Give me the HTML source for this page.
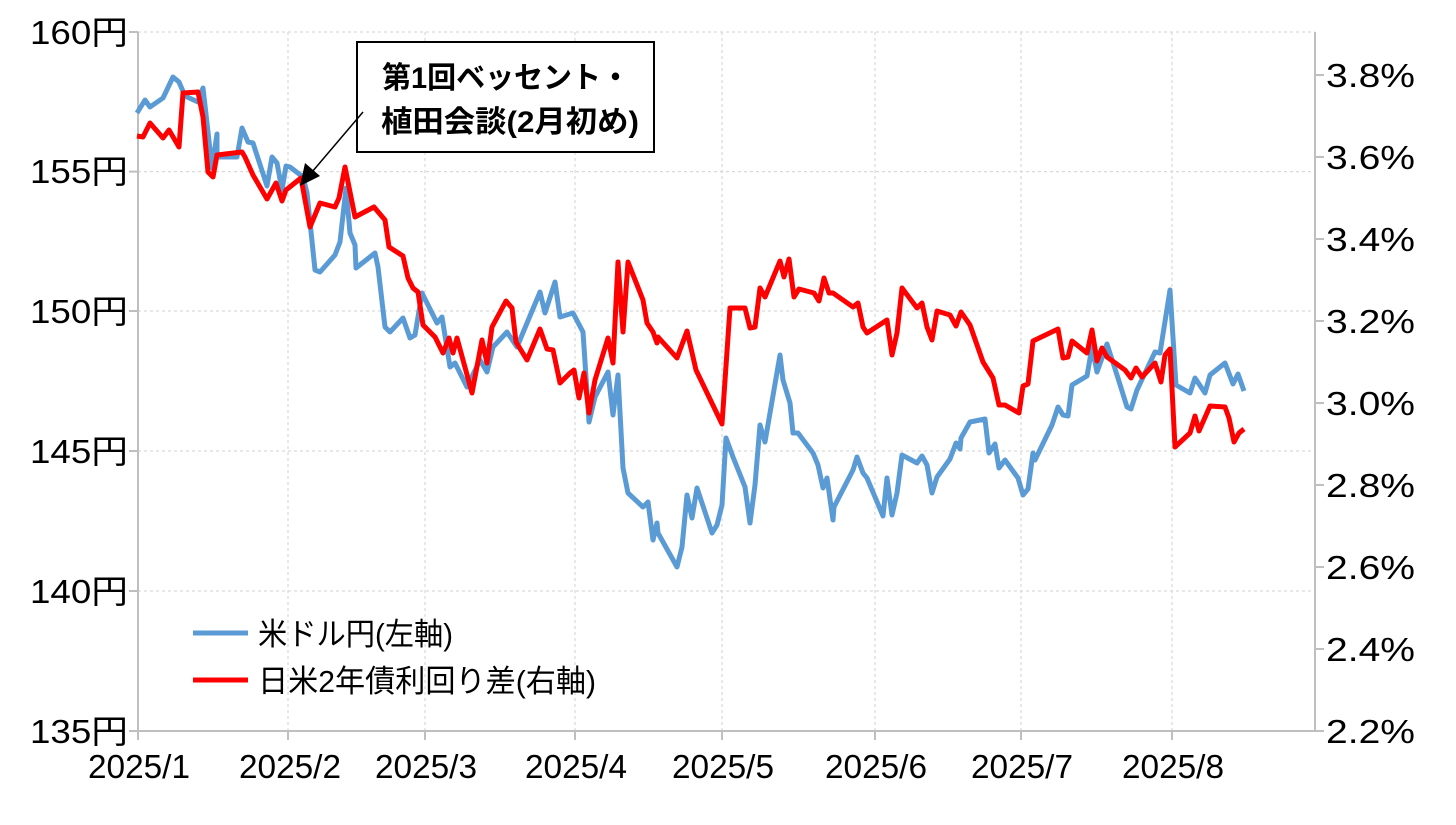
<!DOCTYPE html>
<html><head><meta charset="utf-8"><style>
html,body{margin:0;padding:0;background:#fff;}
svg{display:block;}
text{font-family:"Liberation Sans","Noto Sans CJK JP",sans-serif;fill:#000;}
</style></head><body>
<svg width="1456" height="825" viewBox="0 0 1456 825" xmlns="http://www.w3.org/2000/svg">
<g stroke="#d9d9d9" stroke-width="1.2" stroke-dasharray="3,3">
<line x1="138" y1="32" x2="1315" y2="32"/>
<line x1="138" y1="171.6" x2="1315" y2="171.6"/>
<line x1="138" y1="311" x2="1315" y2="311"/>
<line x1="138" y1="451" x2="1315" y2="451"/>
<line x1="138" y1="591" x2="1315" y2="591"/>
<line x1="288" y1="32" x2="288" y2="731"/>
<line x1="425" y1="32" x2="425" y2="731"/>
<line x1="575" y1="32" x2="575" y2="731"/>
<line x1="722" y1="32" x2="722" y2="731"/>
<line x1="875" y1="32" x2="875" y2="731"/>
<line x1="1021" y1="32" x2="1021" y2="731"/>
<line x1="1172" y1="32" x2="1172" y2="731"/>
</g>
<g stroke="#bfbfbf" stroke-width="2" fill="none">
<line x1="138" y1="32" x2="138" y2="732"/>
<line x1="1315" y1="32" x2="1315" y2="732"/>
<line x1="137" y1="731" x2="1316" y2="731"/>
<line x1="129" y1="32" x2="138" y2="32"/><line x1="129" y1="171.6" x2="138" y2="171.6"/><line x1="129" y1="311" x2="138" y2="311"/><line x1="129" y1="451" x2="138" y2="451"/><line x1="129" y1="591" x2="138" y2="591"/><line x1="129" y1="731" x2="138" y2="731"/>
<line x1="1315" y1="75" x2="1324" y2="75"/><line x1="1315" y1="157" x2="1324" y2="157"/><line x1="1315" y1="239" x2="1324" y2="239"/><line x1="1315" y1="321" x2="1324" y2="321"/><line x1="1315" y1="403" x2="1324" y2="403"/><line x1="1315" y1="485" x2="1324" y2="485"/><line x1="1315" y1="567" x2="1324" y2="567"/><line x1="1315" y1="649" x2="1324" y2="649"/><line x1="1315" y1="731" x2="1324" y2="731"/>
<line x1="138" y1="731" x2="138" y2="740"/><line x1="288" y1="731" x2="288" y2="740"/><line x1="425" y1="731" x2="425" y2="740"/><line x1="575" y1="731" x2="575" y2="740"/><line x1="722" y1="731" x2="722" y2="740"/><line x1="875" y1="731" x2="875" y2="740"/><line x1="1021" y1="731" x2="1021" y2="740"/><line x1="1172" y1="731" x2="1172" y2="740"/>
</g>
<g font-size="33" lengthAdjust="spacingAndGlyphs">
<text x="30" y="44" textLength="98" lengthAdjust="spacingAndGlyphs">160円</text><text x="30" y="183" textLength="98" lengthAdjust="spacingAndGlyphs">155円</text><text x="30" y="323" textLength="98" lengthAdjust="spacingAndGlyphs">150円</text><text x="30" y="463" textLength="98" lengthAdjust="spacingAndGlyphs">145円</text><text x="30" y="603" textLength="98" lengthAdjust="spacingAndGlyphs">140円</text><text x="30" y="743" textLength="98" lengthAdjust="spacingAndGlyphs">135円</text>
</g>
<g font-size="33">
<text x="1326" y="87" textLength="89" lengthAdjust="spacingAndGlyphs">3.8%</text><text x="1326" y="169" textLength="89" lengthAdjust="spacingAndGlyphs">3.6%</text><text x="1326" y="251" textLength="89" lengthAdjust="spacingAndGlyphs">3.4%</text><text x="1326" y="333" textLength="89" lengthAdjust="spacingAndGlyphs">3.2%</text><text x="1326" y="415" textLength="89" lengthAdjust="spacingAndGlyphs">3.0%</text><text x="1326" y="497" textLength="89" lengthAdjust="spacingAndGlyphs">2.8%</text><text x="1326" y="579" textLength="89" lengthAdjust="spacingAndGlyphs">2.6%</text><text x="1326" y="661" textLength="89" lengthAdjust="spacingAndGlyphs">2.4%</text><text x="1326" y="743" textLength="89" lengthAdjust="spacingAndGlyphs">2.2%</text>
</g>
<g font-size="33">
<text x="88" y="778" textLength="102" lengthAdjust="spacingAndGlyphs">2025/1</text><text x="239" y="778" textLength="102" lengthAdjust="spacingAndGlyphs">2025/2</text><text x="375" y="778" textLength="102" lengthAdjust="spacingAndGlyphs">2025/3</text><text x="525" y="778" textLength="102" lengthAdjust="spacingAndGlyphs">2025/4</text><text x="672" y="778" textLength="102" lengthAdjust="spacingAndGlyphs">2025/5</text><text x="825" y="778" textLength="102" lengthAdjust="spacingAndGlyphs">2025/6</text><text x="971" y="778" textLength="102" lengthAdjust="spacingAndGlyphs">2025/7</text><text x="1122" y="778" textLength="102" lengthAdjust="spacingAndGlyphs">2025/8</text>
</g>
<polyline fill="none" stroke="#5b9bd5" stroke-width="5" stroke-linejoin="round" points="137,113 145,100 150,107 163,98 173,77 179,82 185,96 198,102 203,88 207,123 212,168 217,134 217,157 223,157 237,157 242,128 248,142 253,143 267,186 272,157 277,163 282,190 286,166 290,167 303,177 307,193 315,270 320,272 335,255 340,242 346,188 350,233 355,245 356,268 375,253 378,267 385,327 390,332 403,318 410,338 415,335 422,293 437,323 442,317 450,367 455,363 467,387 480,360 487,372 493,347 507,332 517,347 540,292 545,313 555,282 560,317 573,313 583,332 589,422 595,397 608,372 613,415 618,375 623,468 628,493 643,507 648,502 653,540 657,523 658,533 677,567 682,547 687,495 692,518 697,488 712,533 717,525 722,505 726,438 733,457 745,487 750,523 755,485 760,425 765,442 780,355 783,380 790,403 793,433 798,433 813,453 818,465 823,488 827,478 833,520 834,507 853,470 857,457 863,473 867,478 883,516 887,478 892,515 897,493 902,455 917,463 922,456 927,465 932,493 937,477 950,459 956,443 960,449 961,438 970,422 985,419 989,453 995,444 999,468 1005,460 1018,478 1023,495 1028,489 1033,453 1035,460 1052,425 1058,407 1063,415 1068,416 1072,385 1087,376 1092,347 1097,372 1107,344 1117,375 1127,407 1131,409 1137,390 1155,352 1160,353 1170,290 1176,385 1190,393 1195,378 1205,393 1210,375 1225,363 1233,384 1238,374 1244,391"/>
<polyline fill="none" stroke="#ff0000" stroke-width="5" stroke-linejoin="round" points="137,136 143,137 150,123 163,138 169,130 179,147 183,93 198,92 203,117 208,172 213,177 217,155 242,152 245,157 253,175 267,199 276,183 282,201 286,190 301,178 310,227 320,203 335,207 339,198 345,167 355,217 374,207 385,220 389,247 403,256 408,278 413,288 418,292 423,325 435,337 443,353 449,338 453,353 457,338 472,393 482,340 487,363 492,327 506,301 512,308 516,342 527,360 540,329 547,349 553,350 560,383 570,373 574,370 579,398 584,373 589,413 595,380 608,338 613,363 618,262 623,332 628,262 643,300 647,323 653,332 657,343 658,337 677,358 687,331 696,370 722,424 730,308 745,308 750,328 755,327 760,288 765,297 780,261 784,277 789,259 794,297 799,289 814,293 819,301 824,278 829,293 833,293 853,307 858,303 863,327 867,333 887,320 892,355 897,333 902,288 917,308 922,303 927,327 932,340 937,311 950,315 956,326 961,312 970,325 983,362 993,378 999,405 1005,405 1019,413 1023,386 1028,384 1033,341 1058,329 1063,358 1068,357 1072,341 1087,353 1092,330 1097,361 1102,348 1107,357 1125,370 1131,378 1136,368 1142,377 1155,363 1161,382 1165,355 1170,349 1175,447 1190,433 1195,416 1199,431 1210,406 1225,407 1229,418 1234,442 1239,433 1244,429"/>
<rect x="357" y="42" width="297" height="110" fill="#fff" stroke="#000" stroke-width="2"/>
<text x="382" y="88" font-size="30" font-weight="bold" textLength="248" lengthAdjust="spacingAndGlyphs">第1回ベッセント・</text>
<text x="381" y="132" font-size="30" font-weight="bold" textLength="258" lengthAdjust="spacingAndGlyphs">植田会談(2月初め)</text>
<line x1="363" y1="112" x2="312" y2="172" stroke="#000" stroke-width="1.5"/>
<polygon points="300,186 305,163 320,176" fill="#000"/>
<line x1="193" y1="633" x2="248" y2="633" stroke="#5b9bd5" stroke-width="5"/>
<text x="258" y="645" font-size="31" textLength="195" lengthAdjust="spacingAndGlyphs">米ドル円(左軸)</text>
<line x1="193" y1="680" x2="248" y2="680" stroke="#ff0000" stroke-width="5"/>
<text x="258" y="692" font-size="31" textLength="338" lengthAdjust="spacingAndGlyphs">日米2年債利回り差(右軸)</text>
</svg>
</body></html>
